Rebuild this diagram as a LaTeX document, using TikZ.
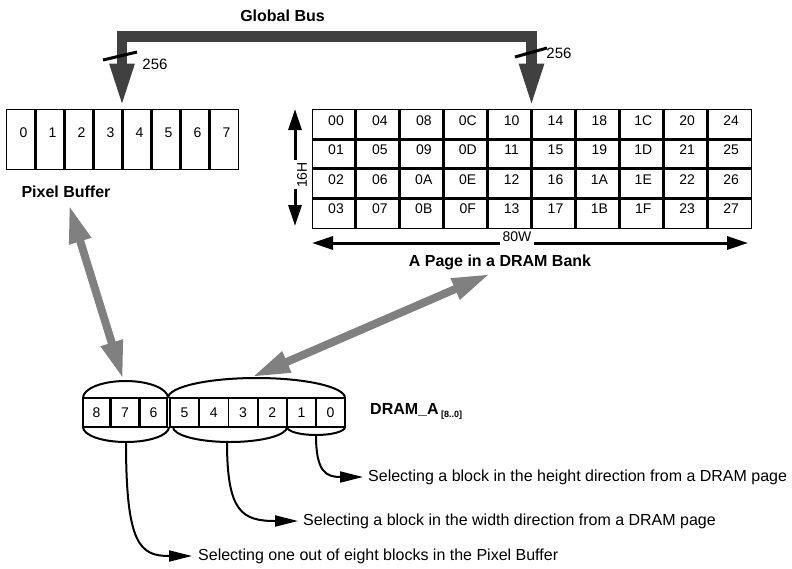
\documentclass[tikz,border=0pt]{standalone}
\usepackage{fontspec}
\setmainfont{Liberation Sans}
\usetikzlibrary{arrows.meta,calc}
\definecolor{busgray}{HTML}{404040}
\definecolor{linkgray}{HTML}{808080}
\begin{document}
\begin{tikzpicture}[x=1pt,y=-1pt,
  lbl/.style={font=\fontsize{16}{18}\selectfont\bfseries, inner sep=0pt},
  celltxt/.style={font=\fontsize{14}{16}\selectfont, inner sep=0pt},
  desc/.style={font=\fontsize{16}{18}\selectfont, inner sep=0pt, anchor=west},
  frame/.style={draw, line width=1pt, inner sep=0pt},
  divider/.style={line width=3pt},
  bus/.style={busgray, line width=10.5pt, line join=miter,
    {Triangle[length=45pt,width=22pt]}-{Triangle[length=45pt,width=22pt]}},
  dimarrow/.style={line width=3pt, -{Triangle[length=21pt,width=13pt]}},
  link/.style={linkgray, line width=8pt,
    {Triangle[length=38pt,width=21pt]}-{Triangle[length=38pt,width=21pt]}},
  regcell/.style={draw, line width=1.8pt, minimum height=29pt, inner sep=0pt,
    font=\fontsize{14}{16}\selectfont},
  grouparc/.style={line width=2pt},
  leader/.style={line width=2pt, -{Triangle[length=23pt,width=11pt]}}
]
\useasboundingbox (0,0) rectangle (792,568);

% ---------- Pixel buffer ----------
\node[frame, minimum width=232pt, minimum height=60pt] (pbuf) at (122,139) {};
\foreach \i in {1,...,7} \draw[divider] ({6+29*\i},109) -- ({6+29*\i},169);
\foreach \i in {0,...,7} \node[celltxt] (pb\i) at ({23.5+29*\i},133) {\i};
\node[lbl] (pblabel) at (66,192) {Pixel Buffer};

% ---------- DRAM page ----------
\node[frame, minimum width=439pt, minimum height=119pt] (page) at (531.5,168.5) {};
\foreach \k in {1,...,9} \draw[divider] ({312+43.9*\k},109) -- ({312+43.9*\k},228);
\foreach \yy in {139,168.5,198.3} \draw[divider] (312,\yy) -- (751,\yy);
\foreach \lab [count=\c from 0] in {00,04,08,0C,10,14,18,1C,20,24}
  \node[celltxt] (pgA\c) at ({336+43.9*\c},121) {\lab};
\foreach \lab [count=\c from 0] in {01,05,09,0D,11,15,19,1D,21,25}
  \node[celltxt] (pgB\c) at ({336+43.9*\c},150) {\lab};
\foreach \lab [count=\c from 0] in {02,06,0A,0E,12,16,1A,1E,22,26}
  \node[celltxt] (pgC\c) at ({336+43.9*\c},179.5) {\lab};
\foreach \lab [count=\c from 0] in {03,07,0B,0F,13,17,1B,1F,23,27}
  \node[celltxt] (pgD\c) at ({336+43.9*\c},208.5) {\lab};

% 16H
\node[celltxt, rotate=90] (h16) at (302,175) {16H};
\coordinate (h16top) at (295,160);
\coordinate (h16bot) at (295,189);
\coordinate (pagetop) at (295,109);
\coordinate (pagebot) at (295,226);
\draw[dimarrow] (h16top) -- (pagetop);
\draw[dimarrow] (h16bot) -- (pagebot);

% 80W
\node[celltxt] (w80) at (517,237) {80W};
\coordinate (w80l) at (500,243);
\coordinate (w80r) at (534,243);
\coordinate (pageleft) at (312,243);
\coordinate (pageright) at (748,243);
\draw[dimarrow] (w80l) -- (pageleft);
\draw[dimarrow] (w80r) -- (pageright);
\node[lbl] (pagelabel) at (500,262) {A Page in a DRAM Bank};

% ---------- Global bus ----------
\node[lbl] (gb) at (282.5,16) {Global Bus};
\draw[bus] (pbuf.north) -- ++(0,-72) -| (page.north);
\coordinate (s1a) at (103,60); \coordinate (s1b) at (137,52);
\coordinate (s2a) at (515,57); \coordinate (s2b) at (547,48);
\draw[line width=3pt] (s1a) -- (s1b);
\draw[line width=3pt] (s2a) -- (s2b);
\node[celltxt, font=\fontsize{15}{17}\selectfont] (n256a) at (155,64) {256};
\node[celltxt, font=\fontsize{15}{17}\selectfont] (n256b) at (559,53) {256};

% ---------- DRAM_A register ----------
\foreach \lab/\cx in {8/96.5, 7/125, 6/153.5}
  \node[regcell, minimum width=27pt] (r\lab) at (\cx,412.5) {\lab};
\foreach \lab/\cx in {5/184.6, 4/213.8, 3/243, 2/272.2, 1/301.4, 0/330.6}
  \node[regcell, minimum width=29.2pt] (r\lab) at (\cx,412.5) {\lab};
\node[lbl, anchor=west] (dlabel) at (370,410) {DRAM\_A};
\node[inner sep=0pt, anchor=west, font=\fontsize{9}{10}\selectfont\bfseries] (dsub) at (441,415) {[8..0]};

% group arcs
\draw[grouparc] (83,398) arc[start angle=180, end angle=0, x radius=42.5pt, y radius=17pt];
\draw[grouparc] (168,398) arc[start angle=180, end angle=0, x radius=88.5pt, y radius=20pt];
\draw[grouparc] (83,427) arc[start angle=180, end angle=360, x radius=43pt, y radius=15pt];
\draw[grouparc] (173,427) arc[start angle=180, end angle=360, x radius=57pt, y radius=15pt];
\draw[grouparc] (287,427) arc[start angle=180, end angle=360, x radius=29pt, y radius=8pt];

% grey links
\coordinate (pbA) at (69,205);
\coordinate (regL) at (123,379);
\coordinate (pgA) at (490,274);
\coordinate (regR) at (252,377);
\draw[link] (pbA) -- (regL);
\draw[link] (pgA) -- (regR);

% leaders and descriptions
\node[desc] (dh) at (368,477) {Selecting a block in the height direction from a DRAM page};
\node[desc] (dw) at (303,521) {Selecting a block in the width direction from a DRAM page};
\node[desc] (dp) at (198,556) {Selecting one out of eight blocks in the Pixel Buffer};
\coordinate (lh) at (316,435);
\coordinate (lw) at (227,442);
\coordinate (lp) at (126,442);
\draw[leader] (lh) .. controls (316,472) and (326,477) .. ([xshift=-5pt]dh.west);
\draw[leader] (lw) .. controls (227,512) and (242,521) .. ([xshift=-5pt]dw.west);
\draw[leader] (lp) .. controls (126,545) and (140,556) .. ([xshift=-6pt]dp.west);
\end{tikzpicture}
\end{document}
